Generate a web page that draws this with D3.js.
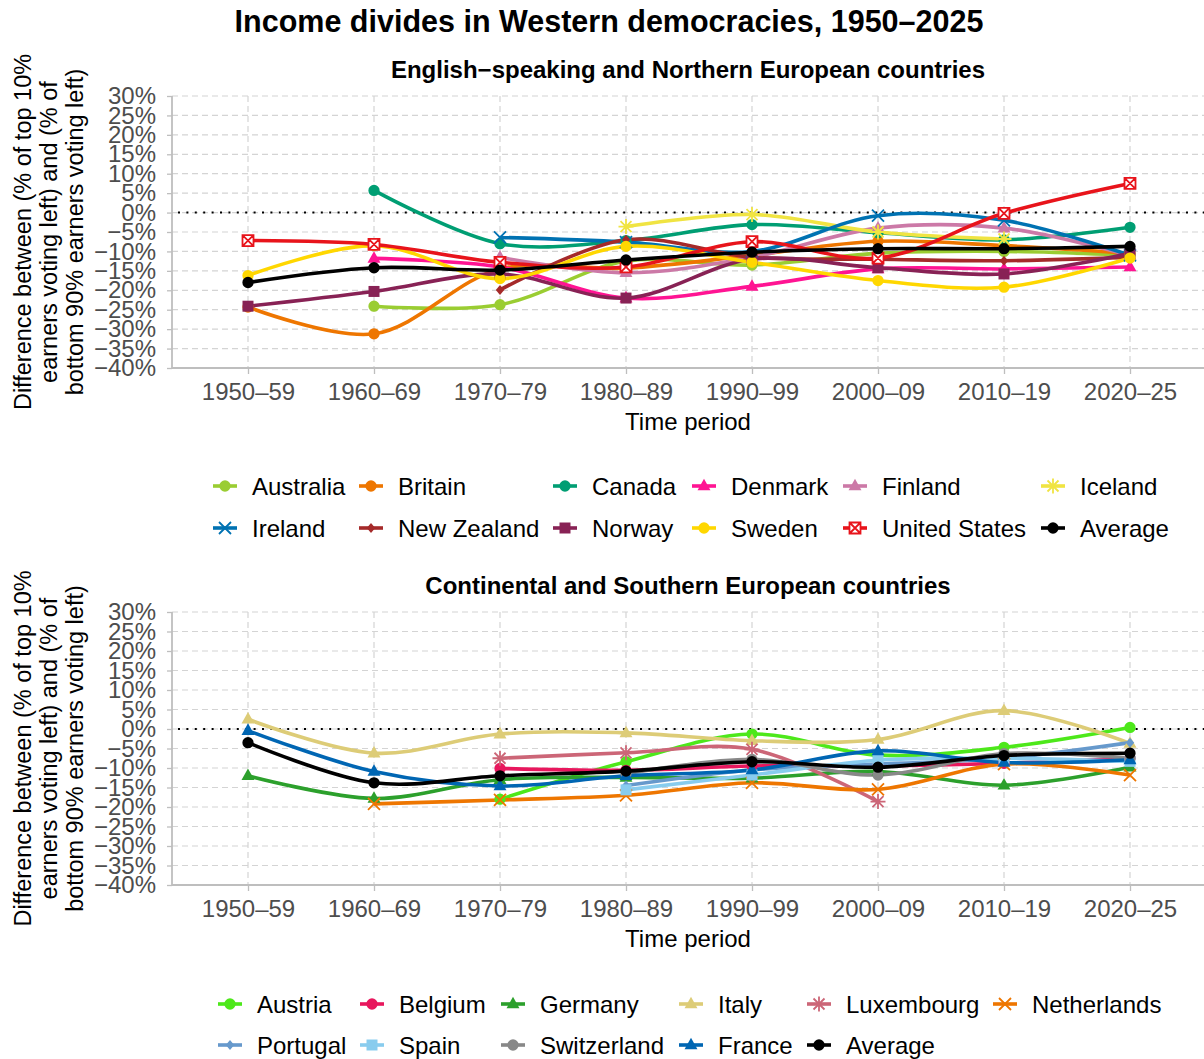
<!DOCTYPE html>
<html>
<head>
<meta charset="utf-8">
<script src="https://cdn.jsdelivr.net/npm/d3@7"></script>
<style>
  body { margin: 0; background: #fff; }
  svg { font-family: "Liberation Sans", Arial, sans-serif; display: block; }
</style>
</head>
<body>
<div id="chart"></div>
<script>
// ---- data ----
const periods = ["1950–59", "1960–69", "1970–79", "1980–89", "1990–99", "2000–09", "2010–19", "2020–25"];

const topNames = ["Australia", "Britain", "Canada", "Denmark", "Finland", "Iceland",
                  "Ireland", "New Zealand", "Norway", "Sweden", "United States", "Average"];
const topValues = [
  [null, -24.1, -23.7, -12.5, -13.5, -10.5, -10.0, -11.0],   // Australia
  [-24.3, -31.2, -14.5, -14.3, -11.0, -7.4, -8.5, -10.5],    // Britain
  [null, 5.7, -8.0, -7.2, -3.1, -5.2, -7.0, -3.8],           // Canada
  [null, -11.8, -14.0, -22.0, -19.0, -14.5, -14.5, -14.0],   // Denmark
  [null, null, -11.5, -15.5, -11.5, -4.0, -4.0, -11.0],      // Finland
  [null, null, null, -3.6, -0.5, -5.0, -6.8, null],          // Iceland
  [null, null, -6.4, -7.6, -10.0, -0.8, -2.0, -11.0],        // Ireland
  [null, null, -19.9, -7.0, -11.5, -12.0, -12.4, -11.5],     // New Zealand
  [-24.1, -20.3, -15.8, -22.0, -12.0, -14.2, -15.8, -10.5],  // Norway
  [-16.2, -8.5, -17.0, -8.7, -12.8, -17.5, -19.2, -11.7],    // Sweden
  [-7.2, -8.2, -12.8, -14.0, -7.5, -11.7, -0.2, 7.5],        // United States
  [-18.0, -14.2, -14.8, -12.2, -10.2, -9.3, -9.3, -8.7]      // Average
];
const topColors = ["#9ACD32", "#EE7600", "#009E73", "#FF1493", "#CC79A7", "#F0E442",
                   "#0072B2", "#A52A2A", "#882255", "#FFD700", "#E8141B", "#000000"];
const topShapes = ["circle", "circle", "circle", "triangle", "triangle", "asterisk",
                   "x", "diamond", "square", "circle", "boxx", "circle"];

const botNames = ["Austria", "Belgium", "Germany", "Italy", "Luxembourg", "Netherlands",
                  "Portugal", "Spain", "Switzerland", "France", "Average"];
const botValues = [
  [null, null, -18.0, -8.4, -1.3, -6.7, -4.7, 0.4],          // Austria
  [null, null, -10.1, -10.6, -9.5, -9.5, -8.8, -7.5],        // Belgium
  [-12.0, -17.8, -13.0, -12.4, -12.6, -10.9, -14.4, -9.8],   // Germany
  [2.5, -6.2, -1.3, -1.0, -3.0, -2.7, 4.7, -3.7],            // Italy
  [null, null, -7.5, -6.1, -5.2, -18.6, null, null],         // Luxembourg
  [null, -19.2, -18.2, -17.0, -13.8, -15.5, -9.0, -11.8],    // Netherlands
  [null, null, null, -14.5, -10.5, -9.0, -7.5, -3.5],        // Portugal
  [null, null, null, -15.6, -11.8, -8.0, -7.5, -8.3],        // Spain
  [null, null, null, -11.5, -7.8, -11.8, -6.3, -7.5],        // Switzerland
  [-0.4, -10.9, -14.6, -12.0, -10.5, -5.6, -8.6, -7.9],      // France
  [-3.5, -13.8, -12.0, -10.8, -8.4, -9.8, -6.8, -6.2]        // Average
];
const botColors = ["#4DE81A", "#E8175D", "#2CA02C", "#DDCC77", "#CC6677", "#EE7600",
                   "#6699CC", "#88CCEE", "#888888", "#0066B3", "#000000"];
const botShapes = ["circle", "circle", "triangle", "triangle", "asterisk", "x",
                   "diamond", "square", "circle", "triangle", "circle"];

const yTicks = d3.range(-40, 31, 5);

// ---- canvas ----
const W = 1204, H = 1059;
const svg = d3.select("#chart").append("svg").attr("width", W).attr("height", H);
const font = "'Liberation Sans', Arial, sans-serif";

svg.append("text").attr("x", 609).attr("y", 32).attr("text-anchor", "middle")
   .attr("font-size", 30.5).attr("font-weight", "bold").text("Income divides in Western democracies, 1950–2025");

const x = d3.scalePoint().domain(periods).range([248, 1130]);
const left = 172, right = W;

// marker shapes
function shapePath(s) {
  if (s === "circle") return d3.symbol(d3.symbolCircle, 100)();
  if (s === "triangle") { const r = 7.2; return `M0,${-r}L${r*0.9},${r*0.6}L${-r*0.9},${r*0.6}Z`; }
  if (s === "square") return "M-5.5,-5.5H5.5V5.5H-5.5Z";
  if (s === "diamond") return "M0,-5L4.2,0L0,5L-4.2,0Z";
  if (s === "x") return "M-6,-6L6,6M-6,6L6,-6";
  if (s === "asterisk") return "M-5.5,-5.5L5.5,5.5M-5.5,5.5L5.5,-5.5M0,-7.5V7.5M-7.5,0H7.5";
  if (s === "boxx") return "M-5.5,-5.5H5.5V5.5H-5.5ZM-5.5,-5.5L5.5,5.5M-5.5,5.5L5.5,-5.5";
}
function styleMarker(sel, shape, col) {
  const open = shape === "x" || shape === "asterisk" || shape === "boxx";
  sel.attr("d", shapePath(shape))
     .attr("fill", shape === "boxx" ? "#fff" : (open ? "none" : col))
     .attr("stroke", open ? col : "none")
     .attr("stroke-width", open ? 1.8 : 0);
}

function panel(cfg) {
  const y = d3.scaleLinear().domain([-40, 30]).range([cfg.bottom, cfg.top]);
  const g = svg.append("g");

  // panel title
  g.append("text").attr("x", (left + right) / 2).attr("y", cfg.top - 18)
   .attr("text-anchor", "middle").attr("font-size", 24).attr("font-weight", "bold")
   .text(cfg.title);

  // grid
  g.append("g").selectAll("line").data(yTicks).join("line")
   .attr("x1", left).attr("x2", right).attr("y1", d => y(d)).attr("y2", d => y(d))
   .attr("stroke", "#D4D4D4").attr("stroke-width", 1.2).attr("stroke-dasharray", "6,4");
  g.append("g").selectAll("line").data(periods).join("line")
   .attr("x1", d => x(d)).attr("x2", d => x(d)).attr("y1", cfg.top).attr("y2", cfg.bottom)
   .attr("stroke", "#D4D4D4").attr("stroke-width", 1.2).attr("stroke-dasharray", "6,4");

  // zero line
  g.append("line").attr("x1", left + 6).attr("x2", right).attr("y1", y(0)).attr("y2", y(0))
   .attr("stroke", "#000").attr("stroke-width", 2).attr("stroke-dasharray", "2,6.4");

  // y axis
  const ya = g.append("g").attr("transform", `translate(${left},0)`)
    .call(d3.axisLeft(y).tickValues(yTicks).tickSize(5).tickPadding(11)
          .tickFormat(d => (d < 0 ? "−" : "") + Math.abs(d) + "%"));
  ya.select(".domain").remove();
  ya.selectAll("line").attr("stroke", "#BEBEBE").attr("stroke-width", 1.3);
  ya.selectAll("text").attr("font-size", 24).attr("fill", "#4D4D4D").attr("font-family", font);
  g.append("line").attr("x1", left).attr("x2", left).attr("y1", cfg.top).attr("y2", cfg.bottom)
   .attr("stroke", "#BEBEBE").attr("stroke-width", 1.8);

  // x axis
  const xa = g.append("g").attr("transform", `translate(0,${cfg.bottom})`)
    .call(d3.axisBottom(x).tickSize(6).tickPadding(9));
  xa.select(".domain").remove();
  xa.selectAll("line").attr("stroke", "#BEBEBE").attr("stroke-width", 1.3);
  xa.selectAll("text").attr("font-size", 24).attr("fill", "#4D4D4D").attr("font-family", font);
  g.append("line").attr("x1", left).attr("x2", right).attr("y1", cfg.bottom).attr("y2", cfg.bottom)
   .attr("stroke", "#BEBEBE").attr("stroke-width", 1.8);

  g.append("text").attr("x", (left + right) / 2).attr("y", cfg.bottom + 62)
   .attr("text-anchor", "middle").attr("font-size", 24).text("Time period");

  // y title
  const yt = g.append("text").attr("transform", `translate(0,${(cfg.top + cfg.bottom) / 2}) rotate(-90)`)
   .attr("text-anchor", "middle").attr("font-size", 23.5);
  ["Difference between (% of top 10%", "earners voting left) and (% of", "bottom 90% earners voting left)"]
    .forEach((t, i) => yt.append("tspan").attr("x", 0).attr("y", 31 + i * 26).text(t));

  // series
  const line = d3.line().defined(d => d.v !== null)
    .x(d => x(d.p)).y(d => y(d.v)).curve(d3.curveCatmullRom.alpha(0.5));
  const series = cfg.names.map((n, i) => ({
    name: n, col: cfg.colors[i], shape: cfg.shapes[i],
    pts: periods.map((p, j) => ({ p, v: cfg.values[i][j] }))
  }));
  const others = series.filter(s => s.name !== "Average");
  const avg = series.filter(s => s.name === "Average");

  function drawLines(list) {
    g.append("g").selectAll("path").data(list).join("path")
     .attr("d", s => line(s.pts)).attr("fill", "none")
     .attr("stroke", s => s.col).attr("stroke-width", 3.6).attr("stroke-linejoin", "round");
  }
  function drawPoints(list) {
    list.forEach(s => {
      g.append("g").selectAll("path").data(s.pts.filter(d => d.v !== null)).join("path")
       .attr("transform", d => `translate(${x(d.p)},${y(d.v)})`)
       .call(sel => styleMarker(sel, s.shape, s.col));
    });
  }
  drawLines(others); drawPoints(others);
  drawLines(avg); drawPoints(avg);

  // legend
  series.forEach((s, i) => {
    const col = i % 6, row = Math.floor(i / 6);
    const lx = cfg.legendX[col], ly = cfg.legendY[row];
    const k = g.append("g").attr("transform", `translate(${lx - 27},${ly})`);
    k.append("line").attr("x1", -12).attr("x2", 12).attr("stroke", s.col).attr("stroke-width", 3.6);
    k.append("path").call(sel => styleMarker(sel, s.shape, s.col));
    g.append("text").attr("x", lx).attr("y", ly + 8.5).attr("font-size", 24).text(s.name);
  });
}

panel({
  title: "English−speaking and Northern European countries",
  top: 96, bottom: 368, names: topNames, values: topValues, colors: topColors, shapes: topShapes,
  legendX: [252, 398, 592, 731, 882, 1080], legendY: [486, 528]
});
panel({
  title: "Continental and Southern European countries",
  top: 612, bottom: 885, names: botNames, values: botValues, colors: botColors, shapes: botShapes,
  legendX: [257, 399, 540, 718, 846, 1032], legendY: [1004, 1045]
});
</script>
</body>
</html>
